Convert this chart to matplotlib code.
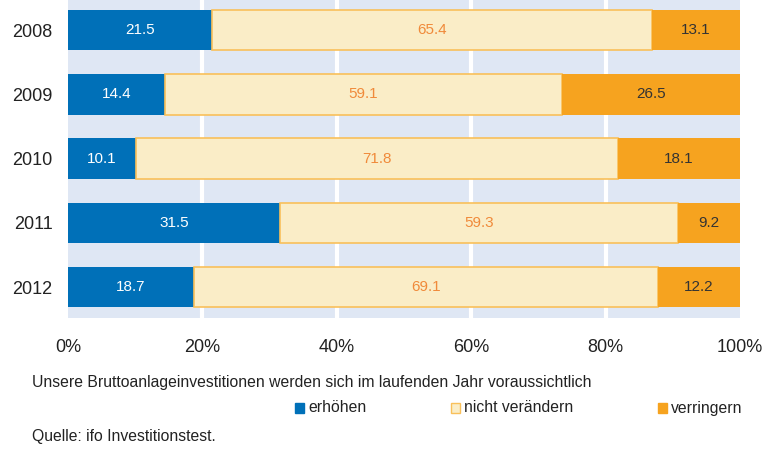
import matplotlib
matplotlib.use("Agg")
import matplotlib.pyplot as plt
from matplotlib.patches import Rectangle
import numpy as np

plt.rcParams["font.family"] = ["Liberation Sans", "DejaVu Sans"]

# data
years = ["2008", "2009", "2010", "2011", "2012"]
erhoehen = [21.5, 14.4, 10.1, 31.5, 18.7]
nicht_veraendern = [65.4, 59.1, 71.8, 59.3, 69.1]
verringern = [13.1, 26.5, 18.1, 9.2, 12.2]
series_labels = ["erhöhen", "nicht verändern", "verringern"]
x_ticks = [0, 20, 40, 60, 80, 100]

BLUE = "#0070b8"
PALE = "#faedc7"
PALE_EDGE = "#f9c05a"
ORANGE = "#f6a31f"
BG = "#dfe7f4"
TXT = "#222222"

fig = plt.figure(figsize=(7.72, 4.51), dpi=100)
ax = fig.add_axes([68 / 772, 1 - 318 / 451, 672 / 772, 318 / 451])
ax.set_facecolor(BG)

y = np.arange(len(years))
h = 0.63
left = np.zeros(len(years))
ax.barh(y, erhoehen, left=left, height=h, color=BLUE, zorder=3)
left += erhoehen
ax.barh(y, nicht_veraendern, left=left, height=h, color=PALE,
        edgecolor=PALE_EDGE, linewidth=1.2, zorder=3)
left += nicht_veraendern
ax.barh(y, verringern, left=left, height=h, color=ORANGE, zorder=3)

for i in range(len(years)):
    e, n, v = erhoehen[i], nicht_veraendern[i], verringern[i]
    ax.text(e / 2, i, f"{e:.1f}", ha="center", va="center", color="white", fontsize=11, zorder=4)
    ax.text(e + n / 2, i, f"{n:.1f}", ha="center", va="center", color="#f08a3a", fontsize=11, zorder=4)
    ax.text(e + n + v / 2, i, f"{v:.1f}", ha="center", va="center", color="#333333", fontsize=11, zorder=4)

ax.set_xlim(0, 100)
ax.set_ylim(4.48, -0.47)
ax.set_xticks(x_ticks)
ax.set_xticklabels([f"{t}%" for t in x_ticks], fontsize=13, color=TXT)
ax.set_yticks(y)
ax.set_yticklabels(years, fontsize=13, color=TXT)
ax.tick_params(length=0)
ax.tick_params(axis="x", pad=15)
ax.tick_params(axis="y", pad=11)
for t in x_ticks[1:-1]:
    ax.axvline(t, color="white", linewidth=3, zorder=1)
for s in ax.spines.values():
    s.set_visible(False)

fig.text(32 / 772, 1 - 382 / 451, "Unsere Bruttoanlageinvestitionen werden sich im laufenden Jahr voraussichtlich",
         fontsize=11.3, va="center", color=TXT)

leg_x = [295, 451, 658]
leg_colors = [(BLUE, BLUE), (PALE, PALE_EDGE), (ORANGE, ORANGE)]
for xp, (fc, ec), lab in zip(leg_x, leg_colors, series_labels):
    fig.patches.append(Rectangle((xp / 772, 1 - 413 / 451), 9 / 772, 10 / 451,
                                 transform=fig.transFigure, facecolor=fc, edgecolor=ec,
                                 linewidth=1))
    fig.text((xp + 13) / 772, 1 - 408 / 451, lab, fontsize=11.3, va="center", color=TXT)

fig.text(32 / 772, 1 - 437 / 451, "Quelle: ifo Investitionstest.", fontsize=11.3, va="center", color=TXT)

fig.savefig("out.png", dpi=100)
